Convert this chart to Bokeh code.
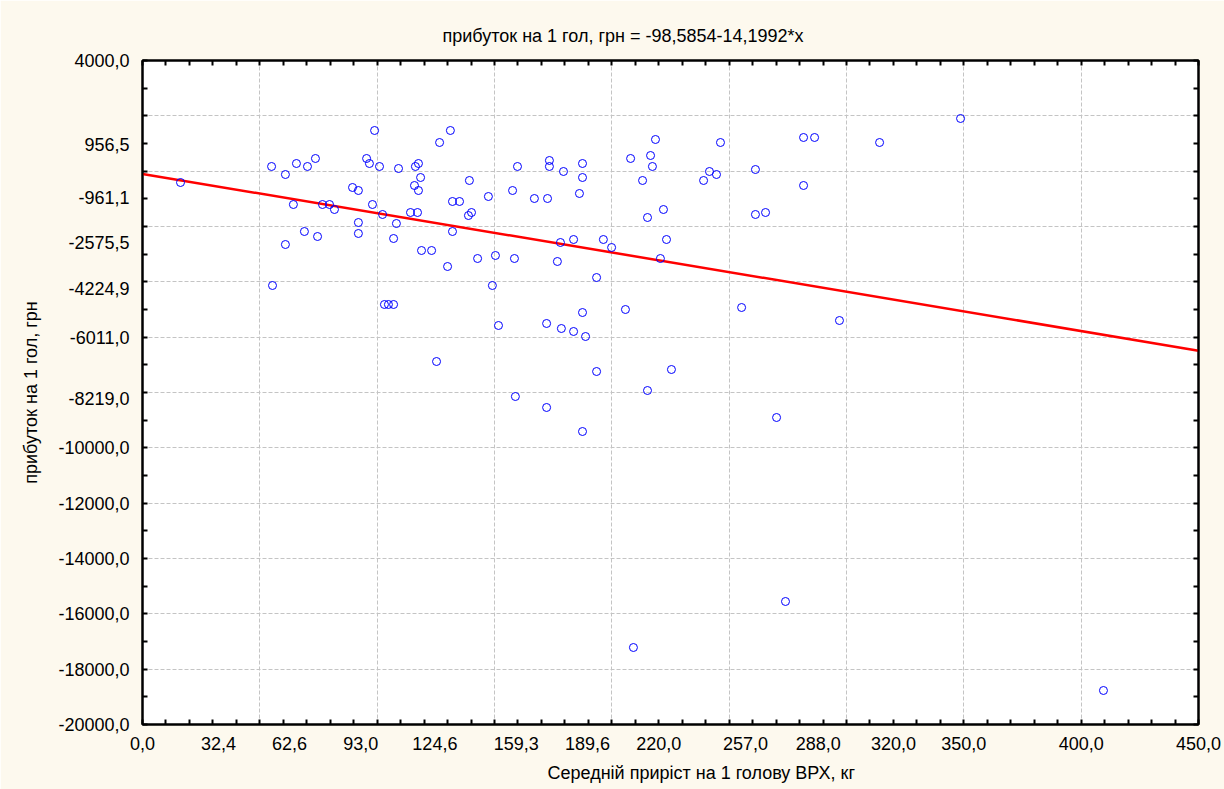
from bokeh.plotting import figure
from bokeh.models import FixedTicker, LinearAxis, Title
from bokeh.embed import file_html
from bokeh.resources import INLINE

# ---- data ----
gain_kg = [
    16.2, 55.0, 55.4, 60.9, 60.9, 64.3, 65.6, 69.0, 70.3, 73.7,
    74.6, 76.7, 79.7, 81.8, 89.5, 92.0, 92.0, 92.0, 95.5, 96.7,
    98.0, 98.9, 101.0, 102.3, 103.1, 104.8, 107.0, 107.0, 108.2, 109.1,
    114.2, 115.9, 116.3, 117.2, 117.6, 117.6, 118.5, 118.9, 123.2, 125.3,
    126.6, 130.0, 131.2, 132.1, 132.1, 135.1, 138.9, 139.3, 140.2, 142.8,
    147.4, 149.1, 150.4, 151.7, 157.7, 158.5, 158.9, 159.8, 167.0, 172.2,
    172.2, 172.6, 173.4, 173.4, 176.8, 178.1, 178.5, 179.4, 183.7, 183.7,
    186.2, 187.5, 187.5, 187.5, 187.5, 188.8, 193.5, 193.5, 196.4, 199.9,
    205.8, 208.0, 209.2, 213.1, 215.2, 215.2, 216.5, 217.3, 218.6, 220.7,
    222.0, 223.3, 225.4, 239.1, 241.6, 244.6, 246.3, 255.3, 261.2, 261.2,
    265.5, 270.2, 274.0, 281.7, 281.7, 286.4, 297.0, 314.1, 348.6, 409.5,
]
profit_uah = [
    -410, 169, -4133, -121, -2651, -1205, 277, -2181, 169, 458,
    -2362, -1205, -1205, -1386, -590, -699, -1856, -2253, 458, 277,
    -1205, 1470, 169, -1566, -4819, -4819, -4819, -2434, -1892, 96,
    -1494, -518, 169, -1494, -699, 277, -229, -2868, -2868, -6880,
    1036, -3446, 1470, -2181, -1096, -1096, -1603, -337, -1494, -3157,
    -916, -4133, -3048, -5578, -699, -3157, -8145, 169, -988, -5506,
    -8542, -988, 169, 386, -3265, -2578, -5687, -12, -2470, -5795,
    -807, 277, -229, -5109, -9410, -5976, -3844, -7241, -2470, -2759,
    -5000, 458, -17217, -337, -1675, -7928, 566, 169, 1145, -3157,
    -1386, -2470, -7169, -337, -12, -121, 1036, -4928, 60, -1566,
    -1494, -8904, -15554, 1217, -518, 1217, -5398, 1036, 1904, -18771,
]

intercept = -98.5854
slope = -14.1992

x_tick_values = [0, 32.4, 62.6, 93, 124.6, 159.3, 189.6, 220, 257, 288, 320, 350, 400, 450]
x_tick_labels = ["0,0", "32,4", "62,6", "93,0", "124,6", "159,3", "189,6", "220,0",
                 "257,0", "288,0", "320,0", "350,0", "400,0", "450,0"]
y_tick_values = [4000, 956.5, -961.1, -2575.5, -4224.9, -6011, -8219, -10000,
                 -12000, -14000, -16000, -18000, -20000]
y_tick_labels = ["4000,0", "956,5", "-961,1", "-2575,5", "-4224,9", "-6011,0", "-8219,0",
                 "-10000,0", "-12000,0", "-14000,0", "-16000,0", "-18000,0", "-20000,0"]
x_minor = list(range(0, 451, 10))
y_minor = list(range(-20000, 4001, 1000))
x_grid = list(range(50, 401, 50))
y_grid = list(range(-18000, 2001, 2000))

title_text = "прибуток на 1 гол, грн = -98,5854-14,1992*x"
x_label = "Середній приріст на 1 голову ВРХ, кг"
y_label = "прибуток на 1 гол, грн"

FONT = "Liberation Sans"
FS = "18px"
CREAM = "#FDF9EE"

p = figure(frame_width=1056, frame_height=664,
           x_range=(0, 450), y_range=(-20000, 4000),
           output_backend="svg", toolbar_location=None,
           min_border_left=142, min_border_right=26,
           min_border_top=60, min_border_bottom=65,
           background_fill_color="white", border_fill_color=CREAM,
           outline_line_color="black", outline_line_width=2)

p.title.text = title_text
p.title.align = "left"
p.title.offset = 300
p.title.text_font = FONT
p.title.text_font_size = FS
p.title.text_font_style = "normal"
p.title.text_color = "black"
p.title.standoff = 30

# grids
p.xgrid.ticker = FixedTicker(ticks=x_grid)
p.ygrid.ticker = FixedTicker(ticks=y_grid)
for g in (p.xgrid, p.ygrid):
    g.grid_line_color = "#C4C4C4"
    g.grid_line_dash = "4 2"
    g.grid_line_width = 1

def style_axis(ax, show_labels=True):
    ax.axis_line_color = "black"
    ax.axis_line_width = 2
    ax.major_tick_in = 0
    ax.major_tick_out = 0
    ax.minor_tick_in = 5
    ax.minor_tick_out = 0
    ax.minor_tick_line_color = "black"
    ax.minor_tick_line_width = 2
    ax.major_label_text_font = FONT
    ax.major_label_text_font_size = FS if show_labels else "0px"
    ax.major_label_text_color = "black"

xax = p.xaxis[0]
xax.ticker = FixedTicker(ticks=x_tick_values, minor_ticks=x_minor)
xax.major_label_overrides = dict(zip(x_tick_values, x_tick_labels))
style_axis(xax)
xax.major_label_standoff = 12

yax = p.yaxis[0]
yax.ticker = FixedTicker(ticks=y_tick_values, minor_ticks=y_minor)
yax.major_label_overrides = dict(zip(y_tick_values, y_tick_labels))
style_axis(yax)
yax.major_label_standoff = 13

top_ax = LinearAxis(ticker=FixedTicker(ticks=[], minor_ticks=x_minor))
style_axis(top_ax, show_labels=False)
p.add_layout(top_ax, "above")
right_ax = LinearAxis(ticker=FixedTicker(ticks=[], minor_ticks=y_minor))
style_axis(right_ax, show_labels=False)
p.add_layout(right_ax, "right")

# regression line from the coefficients
xs_line = [x_tick_values[0], x_tick_values[-1]]
ys_line = [intercept + slope * v for v in xs_line]
p.line(xs_line, ys_line, line_color="#FF0000", line_width=2.5)

p.scatter(gain_kg, profit_uah, marker="circle", size=8,
          fill_color=None, line_color="#0000FF", line_width=1)

# axis titles (offset like the reference)
xt = Title(text=x_label, align="left", offset=405, text_font=FONT, text_font_size=FS,
           text_font_style="normal", text_color="black", standoff=17)
p.add_layout(xt, "below")
yt = Title(text=y_label, align="center", offset=38, text_font=FONT, text_font_size=FS,
           text_font_style="normal", text_color="black", standoff=30)
p.add_layout(yt, "left")

open("out.html", "w").write(file_html(p, INLINE))
